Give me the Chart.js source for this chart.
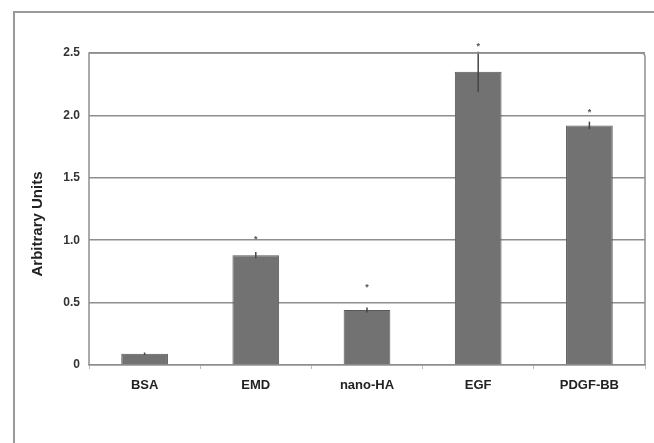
<!DOCTYPE html>
<html>
<head>
<meta charset="utf-8">
<script src="https://cdn.jsdelivr.net/npm/chart.js@4.4.0/dist/chart.umd.min.js"></script>
<style>
  html, body { margin: 0; padding: 0; background: #fff; }
  #wrap { width: 654px; height: 443px; position: relative; }
</style>
</head>
<body>
<div id="wrap"><canvas id="barChart"></canvas></div>
<script>
// values
const categories = ['BSA', 'EMD', 'nano-HA', 'EGF', 'PDGF-BB'];
const meanValues = [0.09, 0.88, 0.44, 2.35, 1.92];
const errorValues = [0.01, 0.025, 0.02, 0.16, 0.03];
const starValues = [null, 1.02, 0.64, 2.57, 2.04];
const yTicks = [0, 0.5, 1.0, 1.5, 2.0, 2.5];
const yTitle = 'Arbitrary Units';

const gridGrey = '#8e8e8e';
const fontFam = '"Liberation Sans", Arial, sans-serif';

// error bars + asterisks
const errorBarPlugin = {
    id: 'errorBars',
    afterDatasetsDraw(chart) {
        const ctx = chart.ctx;
        const y = chart.scales.y;
        const meta = chart.getDatasetMeta(0);
        ctx.save();
        ctx.strokeStyle = '#444';
        ctx.lineWidth = 1.5;
        meta.data.forEach(function (bar, i) {
            const top = y.getPixelForValue(meanValues[i] + errorValues[i]);
            const bot = y.getPixelForValue(meanValues[i] - errorValues[i]);
            ctx.beginPath();
            ctx.moveTo(bar.x, top);
            ctx.lineTo(bar.x, bot);
            ctx.stroke();
            if (starValues[i] !== null) {
                ctx.fillStyle = '#555';
                ctx.font = 'bold 9px ' + fontFam;
                ctx.textAlign = 'center';
                ctx.textBaseline = 'middle';
                ctx.fillText('*', bar.x, y.getPixelForValue(starValues[i]) + 2);
            }
        });
        ctx.restore();
    }
};

// outer frame, plot box and y title (sits a bit below the axis centre in the original)
const framePlugin = {
    id: 'frame',
    beforeDraw(chart) {
        const ctx = chart.ctx;
        ctx.save();
        ctx.fillStyle = '#fff';
        ctx.fillRect(0, 0, chart.width, chart.height);
        ctx.strokeStyle = '#9a9a9a';
        ctx.lineWidth = 2;
        ctx.beginPath();
        ctx.moveTo(14, chart.height + 2);
        ctx.lineTo(14, 12);
        ctx.lineTo(chart.width + 2, 12);
        ctx.stroke();
        ctx.restore();
    },
    afterDraw(chart) {
        const a = chart.chartArea;
        const ctx = chart.ctx;
        ctx.save();
        ctx.strokeStyle = gridGrey;
        ctx.lineWidth = 1.5;
        ctx.beginPath();
        ctx.moveTo(a.left, a.bottom);
        ctx.lineTo(a.left, a.top);
        ctx.lineTo(a.right - 4, a.top);
        ctx.quadraticCurveTo(a.right, a.top, a.right, a.top + 4);
        ctx.lineTo(a.right, a.bottom);
        ctx.stroke();

        ctx.translate(38, (a.top + a.bottom) / 2 + 15);
        ctx.rotate(-Math.PI / 2);
        ctx.fillStyle = '#222';
        ctx.font = 'bold 15px ' + fontFam;
        ctx.textAlign = 'center';
        ctx.textBaseline = 'middle';
        ctx.fillText(yTitle, 0, 0);
        ctx.restore();
    }
};

new Chart(document.getElementById('barChart'), {
    type: 'bar',
    data: {
        labels: categories,
        datasets: [{
            data: meanValues,
            backgroundColor: '#727272',
            borderColor: '#585858',
            borderWidth: 1,
            barPercentage: 0.42,
            categoryPercentage: 1.0
        }]
    },
    options: {
        responsive: true,
        maintainAspectRatio: false,
        animation: false,
        devicePixelRatio: 1,
        layout: { padding: { left: 28, right: 9, top: 53, bottom: 0 } },
        plugins: {
            legend: { display: false },
            tooltip: { enabled: false }
        },
        scales: {
            x: {
                afterFit(scale) { scale.height = 78; },
                grid: {
                    offset: true,
                    drawOnChartArea: false,
                    drawTicks: true,
                    tickLength: 4,
                    color: '#bbbbbb',
                    lineWidth: 1
                },
                border: { color: gridGrey, width: 1.5 },
                ticks: {
                    color: '#222',
                    padding: 9,
                    font: { family: fontFam, size: 13, weight: 'bold' }
                }
            },
            y: {
                min: 0,
                max: 2.5,
                afterFit(scale) { scale.width = 61; },
                afterBuildTicks(scale) { scale.ticks = yTicks.map(v => ({ value: v })); },
                grid: {
                    color: gridGrey,
                    lineWidth: 1.5,
                    drawTicks: false
                },
                border: { display: false },
                ticks: {
                    color: '#333',
                    padding: 9,
                    font: { family: fontFam, size: 12, weight: 'bold' },
                    callback: v => v === 0 ? '0' : v.toFixed(1)
                }
            }
        }
    },
    plugins: [framePlugin, errorBarPlugin]
});
</script>
</body>
</html>
